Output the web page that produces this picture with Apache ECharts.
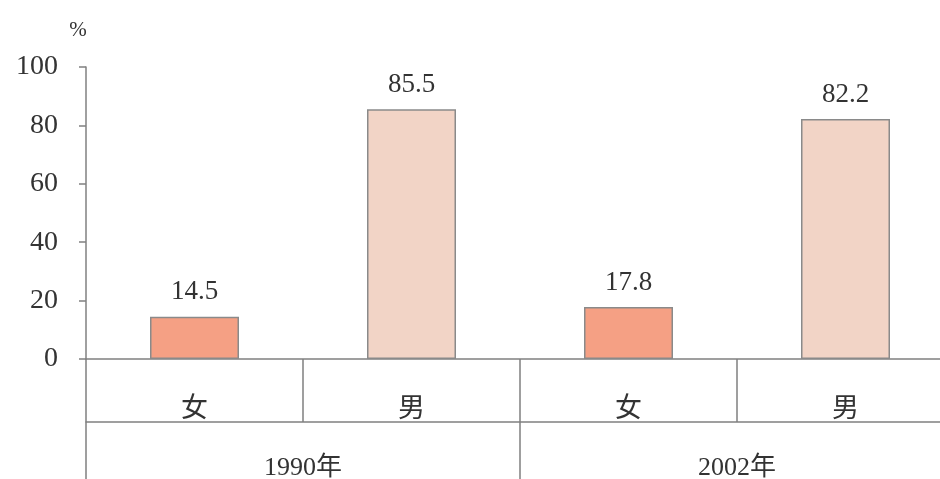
<!DOCTYPE html>
<html>
<head>
<meta charset="utf-8">
<script src="https://cdn.jsdelivr.net/npm/echarts@6/dist/echarts.min.js"></script>
<style>
html,body{margin:0;padding:0;background:#fff;}
#c{width:940px;height:479px;}
</style>
</head>
<body>
<div id="c"></div>
<script>
var genders = ['女', '男', '女', '男'];
var years = ['1990年', '2002年'];
var values = [14.5, 85.5, 17.8, 82.2];
var yTicks = [0, 20, 40, 60, 80, 100];

var FONT = '"Liberation Serif", "DejaVu Serif", "Noto Sans CJK SC", serif';
var colorMap = { '女': '#F5A084', '男': '#F2D4C6' };
var lineColor = '#808080';
var textColor = '#333333';

var chart = echarts.init(document.getElementById('c'), null, { renderer: 'canvas' });
chart.setOption({
  backgroundColor: '#ffffff',
  animation: false,
  grid: { left: 86, width: 868, top: 67, height: 292, containLabel: false, outerBoundsMode: 'none' },
  xAxis: [
    {
      type: 'category',
      data: genders,
      position: 'bottom',
      boundaryGap: true,
      axisLine: { show: true, lineStyle: { color: lineColor, width: 1.5 } },
      axisTick: { show: true, inside: false, length: 63, interval: 0, alignWithLabel: false, lineStyle: { color: lineColor, width: 1.5 } },
      axisLabel: { interval: 0, margin: 37, fontSize: 27, color: textColor, fontFamily: FONT }
    },
    {
      type: 'category',
      data: years,
      position: 'bottom',
      offset: 63,
      boundaryGap: true,
      axisLine: { show: true, lineStyle: { color: lineColor, width: 1.5 } },
      axisTick: { show: true, length: 90, interval: 0, lineStyle: { color: lineColor, width: 1.5 } },
      axisLabel: { interval: 0, margin: 33, fontSize: 26, color: textColor, fontFamily: FONT }
    }
  ],
  yAxis: {
    type: 'value',
    min: yTicks[0],
    max: yTicks[yTicks.length - 1],
    interval: yTicks[1] - yTicks[0],
    name: '%',
    nameLocation: 'end',
    nameGap: 26,
    nameTextStyle: { fontSize: 21, color: textColor, fontFamily: FONT, padding: [0, 16, 0, 0] },
    axisLine: { show: true, lineStyle: { color: lineColor, width: 1.5 } },
    axisTick: { show: true, inside: false, length: 7, lineStyle: { color: lineColor, width: 1.5 } },
    splitLine: { show: false },
    axisLabel: { margin: 28, fontSize: 28, color: textColor, fontFamily: FONT }
  },
  series: [{
    type: 'bar',
    xAxisIndex: 0,
    barWidth: 89,
    data: values.map(function (v, i) {
      return {
        value: v,
        itemStyle: { color: colorMap[genders[i]], borderColor: '#8a8a8a', borderWidth: 1.5 }
      };
    }),
    label: {
      show: true,
      position: 'top',
      distance: 11,
      fontSize: 27,
      color: textColor,
      fontFamily: FONT
    }
  }]
});
</script>
</body>
</html>
